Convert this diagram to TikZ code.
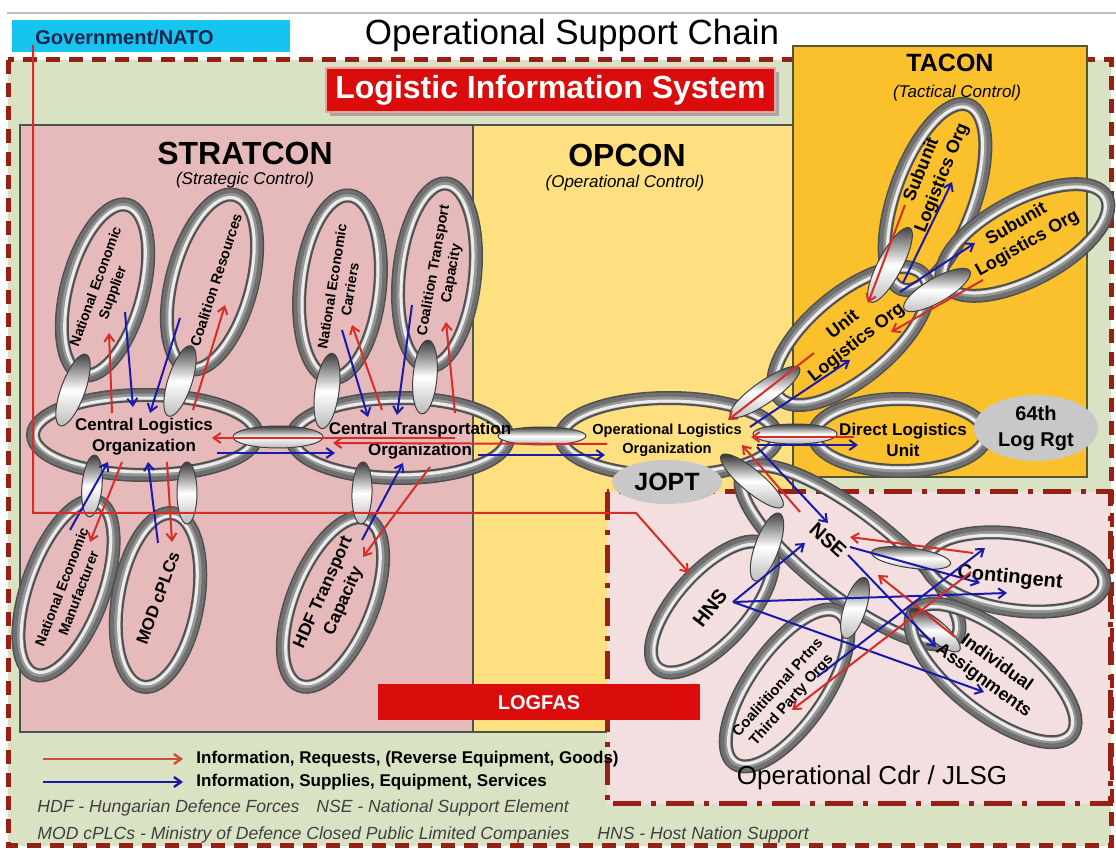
\documentclass[tikz,border=0pt]{standalone}
\usepackage{fontspec}
\setmainfont{Liberation Sans}
\usetikzlibrary{arrows.meta,shapes.geometric}
\definecolor{bggreen}{RGB}{217,227,196}
\definecolor{dred}{RGB}{150,32,22}
\definecolor{stratpink}{RGB}{230,186,186}
\definecolor{opyellow}{RGB}{255,224,128}
\definecolor{tacorange}{RGB}{251,193,45}
\definecolor{cdrpink}{RGB}{243,223,223}
\definecolor{lisred}{RGB}{218,12,12}
\definecolor{govcyan}{RGB}{22,196,240}
\definecolor{govtext}{RGB}{25,35,75}
\definecolor{arrred}{RGB}{215,45,40}
\definecolor{arrblue}{RGB}{25,25,170}
\definecolor{legred}{RGB}{205,80,50}
\definecolor{boxline}{RGB}{75,85,75}
\definecolor{bubble}{RGB}{200,200,200}
\definecolor{ringdark}{RGB}{80,80,80}
\definecolor{ringmid}{RGB}{150,150,150}
\definecolor{ringshade}{RGB}{112,112,112}
\definecolor{ringlight}{RGB}{236,236,236}
\newcommand\fsz[2]{\fontsize{#1}{#2}\selectfont}
\newcommand\tubering[5]{%
  \begin{scope}[rotate around={#5:(#1,#2)}]
    \draw[line width=7pt, ringdark] (#1,#2) ellipse ({#3} and {#4});
    \draw[line width=5pt, ringmid] (#1,#2) ellipse ({#3} and {#4});
    \draw[line width=2pt, ringshade] (#1,#2) ellipse ({#3+3.5} and {#4+3.5});
    \draw[line width=1.5pt, ringlight] (#1,#2) ellipse ({#3-3} and {#4-3});
  \end{scope}}
\newcommand\chainlink[5]{%
  \begin{scope}[rotate around={#5:(#1,#2)}]
    \shade[draw=black!75, line width=0.5pt, top color=gray!45!black, bottom color=gray!55, middle color=white] (#1,#2) ellipse ({#3} and {#4});
  \end{scope}}
\begin{document}
\begin{tikzpicture}[x=0.5pt,y=-0.5pt,
  lbl/.style={font=\bfseries\fsz{8.5}{10.5}, align=center, inner sep=0pt},
  ra/.style={draw=arrred, line width=1pt, -{Straight Barb[length=3.5pt,width=5pt]}},
  ba/.style={draw=arrblue, line width=1pt, -{Straight Barb[length=3.5pt,width=5pt]}},
  heading/.style={font=\bfseries\fsz{16}{18}, inner sep=0pt},
  subhead/.style={font=\itshape\fsz{8.5}{10}, inner sep=0pt},
  foot/.style={anchor=west, font=\itshape\fsz{8.8}{10}, text=black!75, inner sep=0pt},
  legtext/.style={anchor=west, font=\bfseries\fsz{8.5}{10}, inner sep=0pt},
  bubblenode/.style={ellipse, fill=bubble, inner sep=0pt, align=center}
]
\useasboundingbox (0,0) rectangle (1116,850);
\fill[white] (0,0) rectangle (1116,850);
\draw[gray!50, line width=1.2pt] (7,13) -- (1116,13);

% header
\fill[govcyan] (12,20) rectangle (290,52);
\node[anchor=west, font=\bfseries\fsz{10}{12}, text=govtext, inner sep=0pt] (gov) at (35,37) {Government/NATO};
\node[font=\fsz{17.5}{20}, inner sep=0pt] (title) at (572,35) {Operational Support Chain};

% outer frame
\fill[bggreen] (8,60) rectangle (1111,846);
\draw[dred, line width=2.5pt, dash pattern=on 7pt off 4.5pt] (8,60) rectangle (1111,846);

% Logistic Information System
\fill[black!35] (330,72) rectangle (779,116);
\node[fill=lisred, draw=white!60!lisred, line width=0.8pt, minimum width=224.5pt, minimum height=22pt, font=\bfseries\fsz{16}{18}, text=white, inner sep=0pt] (lis) at (550.5,90) {Logistic Information System};

% control areas
\filldraw[fill=stratpink, draw=boxline, line width=1pt] (20,125) rectangle (473,732);
\filldraw[fill=opyellow, draw=boxline, line width=1pt] (473,125) rectangle (793,732);
\filldraw[fill=tacorange, draw={rgb,255:red,85;green,85;blue,50}, line width=1pt] (793,46) rectangle (1087,477);
\filldraw[fill=cdrpink, draw=dred, line width=2.5pt, dash pattern=on 14pt off 5pt on 2.5pt off 5pt] (607,492) rectangle (1110,804);

\node[heading] (strat) at (245,153) {STRATCON};
\node[subhead] (stratsub) at (245,180) {(Strategic Control)};
\node[heading] (opcon) at (627,155) {OPCON};
\node[subhead] (opconsub) at (625,183) {(Operational Control)};
\node[font=\bfseries\fsz{12.5}{14}, inner sep=0pt] (tacon) at (950,63) {TACON};
\node[subhead] (taconsub) at (957,93) {(Tactical Control)};

% LOGFAS
\fill[lisred] (378,684) rectangle (700,720);
\node[font=\bfseries\fsz{10}{12}, text=white, inner sep=0pt] (logfas) at (539,703) {LOGFAS};

% rings
\tubering{105}{290}{88}{38}{75}
\tubering{212}{282}{90}{40}{75}
\tubering{340}{287}{92}{40}{84}
\tubering{437}{275}{92}{38}{84}
\tubering{66}{588}{92}{38}{70}
\tubering{158}{600}{88}{40}{80}
\tubering{333}{602}{90}{40}{68}
\tubering{145}{435}{112}{40}{0}
\tubering{400}{438}{108}{40}{0}
\tubering{669}{437}{108}{39}{0}
\tubering{935}{197}{98}{40}{70}
\tubering{1025}{240}{92}{40}{28}
\tubering{851}{336}{95}{42}{40}
\tubering{900}{435}{86}{36}{0}
\tubering{850}{555}{135}{42}{-38}
\tubering{712}{607}{82}{36}{48}
\tubering{1015}{572}{90}{38}{-8}
\tubering{993}{673}{100}{40}{-38}
\tubering{787}{688}{92}{38}{55}

% links between rings
\chainlink{278}{437}{45}{11}{0}
\chainlink{542}{436}{44}{9}{0}
\chainlink{795}{434}{42}{10}{0}
\chainlink{73}{390}{38}{12}{70}
\chainlink{180}{381}{37}{12}{72}
\chainlink{327}{391}{38}{12}{82}
\chainlink{425}{377}{37}{12}{85}
\chainlink{92}{486}{31}{10}{85}
\chainlink{187}{493}{31}{10}{90}
\chainlink{362}{493}{31}{10}{88}
\chainlink{765}{392}{42}{11}{35}
\chainlink{890}{265}{42}{12}{62}
\chainlink{937}{290}{38}{12}{30}
\chainlink{752}{481}{40}{11}{-40}
\chainlink{767}{547}{36}{12}{70}
\chainlink{911}{558}{40}{10}{-8}
\chainlink{855}{608}{32}{11}{72}
\chainlink{935}{630}{32}{10}{-40}

% bubbles
\node[bubblenode, minimum width=55pt, minimum height=22pt, font=\bfseries\fsz{12.5}{14}] (jopt) at (667,482) {JOPT};
\node[bubblenode, minimum width=62pt, minimum height=33pt, font=\bfseries\fsz{10}{13}] (rgt) at (1036,428) {64th\\Log Rgt};

% ring labels
\node[lbl] (clo) at (144,437) {Central Logistics\\Organization};
\node[lbl] (cto) at (420,441) {Central Transportation\\Organization};
\node[lbl, font=\bfseries\fsz{7.3}{9.5}] (olo) at (667,440) {Operational Logistics\\Organization};
\node[lbl] (dlu) at (903,440) {Direct Logistics\\Unit};
\node[lbl, font=\bfseries\fsz{7}{9}, rotate=70] (nes) at (105,290) {National Economic\\Supplier};
\node[lbl, font=\bfseries\fsz{7.2}{9}, rotate=72] (cr) at (216,280) {Coalition Resources};
\node[lbl, font=\bfseries\fsz{7}{9}, rotate=81] (nec) at (341,288) {National Economic\\Carriers};
\node[lbl, font=\bfseries\fsz{7.2}{9}, rotate=80] (ctc) at (443,272) {Coalition Transport\\Capacity};
\node[lbl, font=\bfseries\fsz{7}{9}, rotate=69] (nem) at (70,590) {National Economic\\Manufacturer};
\node[lbl, font=\bfseries\fsz{8.5}{10}, rotate=70] (mod) at (158,598) {MOD cPLCs};
\node[lbl, font=\bfseries\fsz{8.7}{11}, rotate=66] (hdf) at (334,597) {HDF Transport\\Capacity};
\node[lbl, font=\bfseries\fsz{9}{11}, rotate=38] (ulo) at (850,334) {Unit\\Logistics Org};
\node[lbl, font=\bfseries\fsz{9}{11}, rotate=68] (subtop) at (932,174) {Subunit\\Logistics Org};
\node[lbl, font=\bfseries\fsz{9}{11}, rotate=30] (subright) at (1022,234) {Subunit\\Logistics Org};
\node[lbl, font=\bfseries\fsz{10}{12}, rotate=-42] (nse) at (828,540) {NSE};
\node[lbl, font=\bfseries\fsz{10}{12}, rotate=52] (hns) at (710,608) {HNS};
\node[lbl, font=\bfseries\fsz{10}{12}, rotate=-6] (cont) at (1010,578) {Contingent};
\node[lbl, font=\bfseries\fsz{9}{11}, rotate=-36] (indiv) at (990,672) {Individual\\Assignments};
\node[lbl, font=\bfseries\fsz{7.4}{9.2}, rotate=48] (coal) at (785,694) {Coalititional Prtns\\Third Party Orgs};

% flows STRATCON
\draw[ra] ([shift={(-32,-24)}]clo.center) -- ([shift={(4,43)}]nes.center);
\draw[ba] ([shift={(20,22)}]nes.center) -- ([shift={(-11,-30)}]clo.center);
\draw[ba] ([shift={(-36,38)}]cr.center) -- ([shift={(6,-24)}]clo.center);
\draw[ra] ([shift={(49,-27)}]clo.center) -- ([shift={(9,25)}]cr.center);
\draw[ba] ([shift={(1,42)}]nec.center) -- ([shift={(-52,-24)}]cto.center);
\draw[ra] ([shift={(-38,-31)}]cto.center) -- ([shift={(11,37)}]nec.center);
\draw[ba] ([shift={(-31,33)}]ctc.center) -- ([shift={(-23,-26)}]cto.center);
\draw[ra] ([shift={(35,-28)}]cto.center) -- ([shift={(3,50)}]ctc.center);
\draw[ba] ([shift={(73,16)}]clo.center) -- ([shift={(-85,12)}]cto.center);
\draw[ra] ([shift={(35,-3)}]cto.center) -- ([shift={(68,1)}]clo.center);
\draw[ba] ([shift={(58,14)}]cto.center) -- ([shift={(-62,15)}]olo.center);
\draw[ra] ([shift={(-60,4)}]olo.center) -- ([shift={(-87,2)}]cto.center);
\draw[ba] ([shift={(0,-60)}]nem.center) -- ([shift={(-36,25)}]clo.center);
\draw[ra] ([shift={(-22,25)}]clo.center) -- ([shift={(20,-48)}]nem.center);
\draw[ba] ([shift={(0,-55)}]mod.center) -- ([shift={(4,25)}]clo.center);
\draw[ra] ([shift={(23,25)}]clo.center) -- ([shift={(14,-56)}]mod.center);
\draw[ba] ([shift={(28,-57)}]hdf.center) -- ([shift={(-17,22)}]cto.center);
\draw[ra] ([shift={(10,26)}]cto.center) -- ([shift={(29,-40)}]hdf.center);

% flows TACON
\draw[ra] ([shift={(-27,31)}]subtop.center) -- ([shift={(18,-31)}]ulo.center);
\draw[ba] ([shift={(53,-51)}]ulo.center) -- ([shift={(20,8)}]subtop.center);
\draw[ba] ([shift={(50,-42)}]ulo.center) -- ([shift={(-47,9)}]subright.center);
\draw[ra] ([shift={(-39,46)}]subright.center) -- ([shift={(41,-2)}]ulo.center);
\draw[ra] ([shift={(-36,19)}]ulo.center) -- ([shift={(61,-20)}]olo.center);
\draw[ba] ([shift={(83,-13)}]olo.center) -- ([shift={(0,26)}]ulo.center);
\draw[ra] ([shift={(-49,-3)}]dlu.center) -- ([shift={(84,-3)}]olo.center);
\draw[ba] ([shift={(90,5)}]olo.center) -- ([shift={(-45,5)}]dlu.center);

% flows Operational Cdr
\draw[ra] ([shift={(-28,-28)}]nse.center) -- ([shift={(75,5)}]olo.center);
\draw[ba] ([shift={(90,7)}]olo.center) -- ([shift={(0,-17)}]nse.center);
\draw[ba] ([shift={(23,-6)}]hns.center) -- ([shift={(-23,3)}]nse.center);
\draw[ba] ([shift={(23,-6)}]hns.center) -- ([shift={(-3,15)}]cont.center);
\draw[ba] ([shift={(23,-6)}]hns.center) -- ([shift={(-6,20)}]indiv.center);
\draw[ba] ([shift={(22,7)}]nse.center) -- ([shift={(-30,5)}]cont.center);
\draw[ba] ([shift={(20,15)}]nse.center) -- ([shift={(-54,-25)}]indiv.center);
\draw[ra] ([shift={(-37,-25)}]cont.center) -- ([shift={(22,-3)}]nse.center);
\draw[ra] ([shift={(-35,-35)}]indiv.center) -- ([shift={(50,35)}]nse.center);
\draw[ba] ([shift={(32,-17)}]coal.center) -- ([shift={(-25,-30)}]cont.center);
\draw[ra] ([shift={(-39,-6)}]cont.center) -- ([shift={(7,16)}]coal.center);

% Government/NATO to HNS
\coordinate (govbend) at (636,513);
\draw[ra] ([xshift=-1pt]gov.south west) |- (govbend) -- ([shift={(-21,-35)}]hns.center);

% Operational Cdr label
\node[font=\fsz{13}{15}, inner sep=0pt] (cdr) at (872,778) {Operational Cdr / JLSG};

% legend
\node[legtext] (leg1) at (196,759) {Information, Requests, (Reverse Equipment, Goods)};
\node[legtext] (leg2) at (196,782) {Information, Supplies, Equipment, Services};
\draw[draw=legred, line width=1.2pt, -{Straight Barb[length=3.5pt,width=5pt]}] ([xshift=-76.5pt]leg1.west) -- ([xshift=-6.5pt]leg1.west);
\draw[draw=arrblue, line width=1.2pt, -{Straight Barb[length=3.5pt,width=5pt]}] ([xshift=-76.5pt]leg2.west) -- ([xshift=-6.5pt]leg2.west);
\node[foot] (fn1) at (37,808) {HDF - Hungarian Defence Forces};
\node[foot] (fn2) at (316,808) {NSE - National Support Element};
\node[foot] (fn3) at (37,835) {MOD cPLCs - Ministry of Defence Closed Public Limited Companies};
\node[foot] (fn4) at (597,835) {HNS - Host Nation Support};
\end{tikzpicture}
\end{document}
